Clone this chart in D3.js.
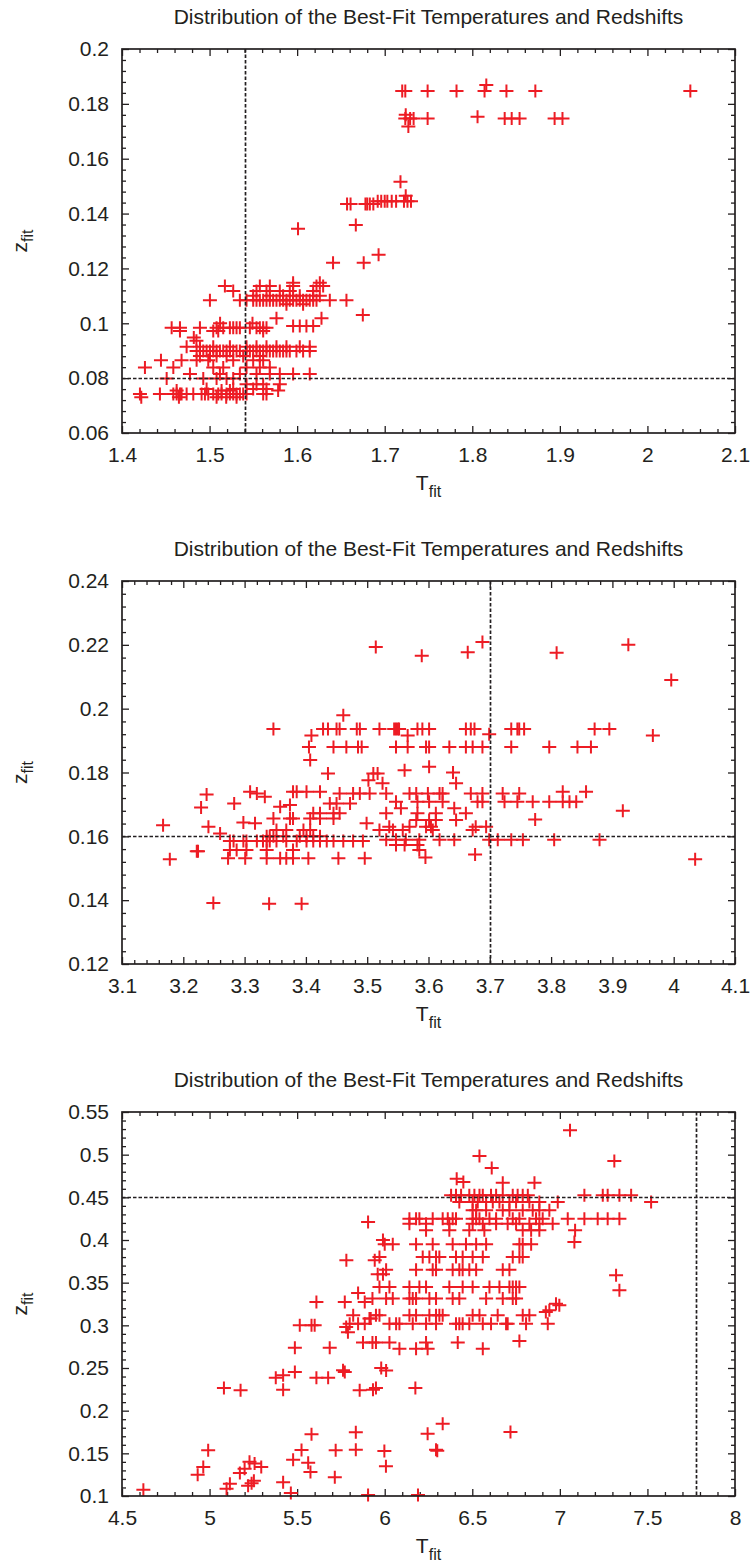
<!DOCTYPE html>
<html>
<head>
<meta charset="utf-8">
<script src="https://cdn.jsdelivr.net/npm/d3@7"></script>
<style>
  html, body { margin: 0; padding: 0; background: #fff; }
  svg { display: block; }
</style>
</head>
<body>
<svg id="chart" width="752" height="1562"></svg>
<script>
// Best-fit temperature / redshift pairs, grouped by redshift row: { z, t: [T_fit ...] }
const lowTRows = [
  { z: 0.1869, t: [1.816] },
  { z: 0.1847, t: [1.720, 1.7235, 1.749, 1.782, 1.814, 1.839, 1.872, 2.049] },
  { z: 0.1760, t: [1.724] },
  { z: 0.1753, t: [1.806] },
  { z: 0.1747, t: [1.7235, 1.729, 1.733, 1.749, 1.837, 1.845, 1.854, 1.894, 1.903] },
  { z: 0.1717, t: [1.727] },
  { z: 0.1516, t: [1.718] },
  { z: 0.1465, t: [1.724] },
  { z: 0.1445, t: [1.692, 1.696, 1.700, 1.703, 1.708, 1.713, 1.722, 1.726, 1.730] },
  { z: 0.1435, t: [1.657, 1.661, 1.678, 1.680, 1.683, 1.687] },
  { z: 0.1358, t: [1.667] },
  { z: 0.1345, t: [1.601] },
  { z: 0.1250, t: [1.693] },
  { z: 0.1221, t: [1.641, 1.676] },
  { z: 0.1148, t: [1.5954, 1.6259] },
  { z: 0.1136, t: [1.5175, 1.5574, 1.5688, 1.5954, 1.6221, 1.6297] },
  { z: 0.1118, t: [1.527, 1.5536, 1.565, 1.5802, 1.5916, 1.6183] },
  { z: 0.1100, t: [1.5498, 1.5688, 1.584, 1.5954, 1.603, 1.6183, 1.6259] },
  { z: 0.1084, t: [1.5004, 1.5346, 1.5422, 1.5498, 1.5536, 1.5574, 1.5612, 1.565, 1.5688, 1.5726, 1.5764, 1.5802, 1.584, 1.5878, 1.5916, 1.5954, 1.5992, 1.603, 1.6068, 1.6106, 1.6144, 1.6183, 1.6221, 1.6373, 1.6563] },
  { z: 0.1069, t: [1.5878, 1.6068] },
  { z: 0.1030, t: [1.675] },
  { z: 0.1018, t: [1.5764, 1.6278] },
  { z: 0.1000, t: [1.512, 1.549] },
  { z: 0.0990, t: [1.5954, 1.603, 1.6106, 1.6183] },
  { z: 0.0984, t: [1.4567, 1.4662, 1.489, 1.508, 1.5156, 1.5232, 1.527, 1.5308, 1.5346, 1.546, 1.5536, 1.5574, 1.5612, 1.565] },
  { z: 0.0972, t: [1.4662, 1.5042, 1.5099, 1.5612] },
  { z: 0.0948, t: [1.482] },
  { z: 0.0936, t: [1.485] },
  { z: 0.0914, t: [1.4738, 1.489, 1.5042, 1.5232, 1.5422, 1.5536, 1.565, 1.5764, 1.5878, 1.603, 1.6144] },
  { z: 0.0899, t: [1.4852, 1.489, 1.4928, 1.4966, 1.5004, 1.5042, 1.508, 1.5118, 1.5156, 1.5194, 1.5232, 1.527, 1.5308, 1.5346, 1.5422, 1.546, 1.5498, 1.5536, 1.5574, 1.5612, 1.565, 1.5688, 1.5726, 1.5764, 1.5802, 1.584, 1.5878, 1.5916, 1.5992, 1.6068, 1.6144] },
  { z: 0.0881, t: [1.489, 1.5004, 1.508, 1.5194, 1.5384, 1.5574] },
  { z: 0.0865, t: [1.4445, 1.468, 1.4852, 1.4985, 1.527, 1.5498, 1.5612] },
  { z: 0.0839, t: [1.4262, 1.4586, 1.5042, 1.5156, 1.5422, 1.5574, 1.5688] },
  { z: 0.0815, t: [1.4776, 1.5118, 1.5346, 1.5536, 1.5688, 1.5802, 1.5954, 1.6144] },
  { z: 0.0799, t: [1.451, 1.4928, 1.508, 1.5194, 1.527] },
  { z: 0.0778, t: [1.5422, 1.5536, 1.5612, 1.5802] },
  { z: 0.0760, t: [1.4966, 1.527, 1.5498, 1.565] },
  { z: 0.0755, t: [1.4624, 1.5137, 1.5232, 1.5783] },
  { z: 0.0742, t: [1.4205, 1.4433, 1.4586, 1.4624, 1.4662, 1.468, 1.4738, 1.4814, 1.4909, 1.4947, 1.4985, 1.5042, 1.5099, 1.5137, 1.5194, 1.5232, 1.527, 1.5308, 1.5346, 1.5384, 1.5422, 1.5612, 1.565] },
  { z: 0.0730, t: [1.422, 1.465, 1.508, 1.519, 1.5308] }
];

const midTRows = [
  { z: 0.2209, t: [3.688] },
  { z: 0.2200, t: [3.926] },
  { z: 0.2193, t: [3.514] },
  { z: 0.2177, t: [3.664] },
  { z: 0.2175, t: [3.809] },
  { z: 0.2166, t: [3.589] },
  { z: 0.2090, t: [3.996] },
  { z: 0.1979, t: [3.461] },
  { z: 0.1936, t: [3.347, 3.428, 3.436, 3.450, 3.455, 3.483, 3.488, 3.520, 3.544, 3.547, 3.550, 3.552, 3.582, 3.590, 3.601, 3.661, 3.669, 3.675, 3.735, 3.745, 3.748, 3.756, 3.871, 3.895] },
  { z: 0.1920, t: [3.699] },
  { z: 0.1916, t: [3.409, 3.566, 3.966] },
  { z: 0.1880, t: [3.405, 3.445, 3.466, 3.485, 3.491, 3.547, 3.566, 3.596, 3.601, 3.634, 3.661, 3.672, 3.688, 3.735, 3.797, 3.843, 3.865] },
  { z: 0.1839, t: [3.407] },
  { z: 0.1818, t: [3.601] },
  { z: 0.1807, t: [3.561] },
  { z: 0.1800, t: [3.640] },
  { z: 0.1797, t: [3.436, 3.510, 3.517] },
  { z: 0.1776, t: [3.502] },
  { z: 0.1766, t: [3.525, 3.645] },
  { z: 0.1740, t: [3.309, 3.379, 3.385, 3.401, 3.423, 3.819, 3.857] },
  { z: 0.1734, t: [3.320, 3.455, 3.477, 3.488, 3.504, 3.531, 3.569, 3.580, 3.599, 3.618, 3.623, 3.669, 3.688, 3.721, 3.748] },
  { z: 0.1731, t: [3.238] },
  { z: 0.1724, t: [3.333] },
  { z: 0.1708, t: [3.547, 3.582, 3.601, 3.623, 3.680, 3.688, 3.724, 3.745, 3.770, 3.797, 3.819, 3.830, 3.841] },
  { z: 0.1703, t: [3.283, 3.439, 3.450, 3.472] },
  { z: 0.1698, t: [3.374] },
  { z: 0.1693, t: [3.358] },
  { z: 0.1690, t: [3.229] },
  { z: 0.1688, t: [3.555, 3.642] },
  { z: 0.1680, t: [3.917] },
  { z: 0.1672, t: [3.412, 3.423, 3.445, 3.455, 3.531, 3.582, 3.612, 3.661] },
  { z: 0.1656, t: [3.347, 3.374, 3.379, 3.407, 3.423, 3.445] },
  { z: 0.1653, t: [3.774] },
  { z: 0.1651, t: [3.580, 3.601, 3.612, 3.645] },
  { z: 0.1643, t: [3.298] },
  { z: 0.1641, t: [3.317, 3.499] },
  { z: 0.1635, t: [3.167] },
  { z: 0.1630, t: [3.241, 3.536, 3.569, 3.596, 3.604, 3.677, 3.694] },
  { z: 0.1620, t: [3.352, 3.368, 3.396, 3.407, 3.520, 3.542, 3.558, 3.607, 3.672] },
  { z: 0.1609, t: [3.260] },
  { z: 0.1600, t: [3.336, 3.341, 3.347, 3.363, 3.390, 3.401, 3.412, 3.423] },
  { z: 0.1589, t: [3.531, 3.547, 3.563, 3.585, 3.618, 3.642, 3.699, 3.713, 3.735, 3.754, 3.805, 3.879] },
  { z: 0.1585, t: [3.276, 3.282, 3.298, 3.303, 3.320, 3.330, 3.336, 3.341, 3.352, 3.368, 3.385, 3.401, 3.412, 3.423, 3.434, 3.445, 3.461, 3.477, 3.493] },
  { z: 0.1573, t: [3.547, 3.561, 3.582] },
  { z: 0.1557, t: [3.276, 3.287, 3.303, 3.336, 3.379, 3.585] },
  { z: 0.1553, t: [3.222, 3.224] },
  { z: 0.1543, t: [3.676] },
  { z: 0.1534, t: [3.595] },
  { z: 0.1531, t: [3.273, 3.301, 3.336, 3.358, 3.368, 3.379, 3.404, 3.453, 3.496] },
  { z: 0.1528, t: [3.178, 4.035] },
  { z: 0.1391, t: [3.249] },
  { z: 0.1389, t: [3.340, 3.393] }
];

const highTRows = [
  { z: 0.5285, t: [7.058] },
  { z: 0.4984, t: [6.541] },
  { z: 0.4926, t: [7.311] },
  { z: 0.4844, t: [6.611] },
  { z: 0.4719, t: [6.411] },
  { z: 0.4680, t: [6.449] },
  { z: 0.4670, t: [6.674, 6.855] },
  { z: 0.4523, t: [6.379, 6.407, 6.436, 6.483, 6.512, 6.541, 6.560, 6.607, 6.636, 6.674, 6.731, 6.759, 6.788, 6.817, 7.140, 7.245, 7.273, 7.340, 7.407] },
  { z: 0.4445, t: [6.426, 6.502, 6.531, 6.579, 6.617, 6.655, 6.712, 6.750, 6.826, 6.883, 6.988, 7.521] },
  { z: 0.4348, t: [6.502, 6.522, 6.579, 6.674, 6.712, 6.788, 6.845, 6.883, 6.940] },
  { z: 0.4250, t: [6.141, 6.179, 6.198, 6.274, 6.331, 6.360, 6.388, 6.407, 6.502, 6.522, 6.541, 6.598, 6.636, 6.731, 6.769, 6.864, 6.902, 7.045, 7.140, 7.216, 7.273, 7.340] },
  { z: 0.4211, t: [5.905] },
  { z: 0.4191, t: [6.141, 6.236, 6.369, 6.502, 6.560, 6.636, 6.702, 6.750, 6.826, 6.883, 6.959] },
  { z: 0.4113, t: [6.236, 6.369, 6.483, 6.569, 6.788, 6.836, 6.883, 7.087] },
  { z: 0.4000, t: [5.990] },
  { z: 0.3977, t: [7.083] },
  { z: 0.3950, t: [6.000, 6.046, 6.179, 6.274, 6.388, 6.464, 6.522, 6.579, 6.769, 6.788, 6.836] },
  { z: 0.3800, t: [5.970, 6.217, 6.255, 6.293, 6.312, 6.407, 6.445, 6.502, 6.560, 6.731, 6.769, 6.788] },
  { z: 0.3762, t: [5.781, 5.943] },
  { z: 0.3650, t: [6.008, 6.179, 6.274, 6.293, 6.388, 6.426, 6.445, 6.483, 6.522, 6.674, 6.712] },
  { z: 0.3600, t: [5.960, 5.990] },
  { z: 0.3586, t: [7.321] },
  { z: 0.3450, t: [5.970, 6.027, 6.141, 6.198, 6.236, 6.369, 6.445, 6.502, 6.598, 6.655, 6.712, 6.731, 6.750, 6.769] },
  { z: 0.3410, t: [7.340] },
  { z: 0.3379, t: [5.848] },
  { z: 0.3313, t: [5.930, 6.008, 6.046, 6.141, 6.160, 6.179, 6.255, 6.293, 6.388, 6.426, 6.579, 6.674, 6.731, 6.750] },
  { z: 0.3273, t: [5.610, 5.772, 5.886] },
  { z: 0.3254, t: [6.978] },
  { z: 0.3234, t: [6.997] },
  { z: 0.3176, t: [6.940] },
  { z: 0.3156, t: [6.920] },
  { z: 0.3117, t: [5.820, 5.950, 5.970, 6.141, 6.179, 6.255, 6.293, 6.312, 6.331, 6.502, 6.541, 6.645, 6.788, 6.826] },
  { z: 0.3080, t: [5.913, 5.920] },
  { z: 0.3020, t: [5.800, 5.848, 5.886, 6.027, 6.065, 6.084, 6.160, 6.236, 6.293, 6.407, 6.426, 6.445, 6.483, 6.560, 6.607, 6.693, 6.702, 6.807, 6.931] },
  { z: 0.3000, t: [5.515, 5.582, 5.600] },
  { z: 0.2980, t: [5.780] },
  { z: 0.2920, t: [5.790] },
  { z: 0.2816, t: [6.769] },
  { z: 0.2800, t: [5.876, 5.930, 5.950, 6.027, 6.236, 6.417] },
  { z: 0.2738, t: [5.487, 5.686] },
  { z: 0.2727, t: [6.084, 6.179, 6.245, 6.560] },
  { z: 0.2500, t: [5.980] },
  { z: 0.2473, t: [5.762] },
  { z: 0.2470, t: [6.008] },
  { z: 0.2453, t: [5.487, 5.772] },
  { z: 0.2414, t: [5.420] },
  { z: 0.2387, t: [5.378, 5.610, 5.677] },
  { z: 0.2266, t: [5.082, 5.950, 6.175] },
  { z: 0.2246, t: [5.420, 5.933] },
  { z: 0.2240, t: [5.857] },
  { z: 0.2238, t: [5.177] },
  { z: 0.1848, t: [6.331] },
  { z: 0.1750, t: [6.718] },
  { z: 0.1746, t: [5.835] },
  { z: 0.1730, t: [6.245] },
  { z: 0.1723, t: [5.582] },
  { z: 0.1543, t: [5.835, 6.293] },
  { z: 0.1540, t: [5.525] },
  { z: 0.1535, t: [4.992, 5.720] },
  { z: 0.1530, t: [6.300] },
  { z: 0.1527, t: [5.998] },
  { z: 0.1426, t: [5.477] },
  { z: 0.1400, t: [5.228] },
  { z: 0.1390, t: [5.563] },
  { z: 0.1380, t: [5.257] },
  { z: 0.1348, t: [6.007] },
  { z: 0.1340, t: [4.964, 5.295] },
  { z: 0.1320, t: [5.200] },
  { z: 0.1280, t: [5.576] },
  { z: 0.1270, t: [5.173] },
  { z: 0.1250, t: [4.932] },
  { z: 0.1220, t: [5.715] },
  { z: 0.1180, t: [5.253] },
  { z: 0.1160, t: [5.420] },
  { z: 0.1150, t: [5.240] },
  { z: 0.1145, t: [5.116] },
  { z: 0.1120, t: [5.220] },
  { z: 0.1086, t: [5.097] },
  { z: 0.1074, t: [4.622] },
  { z: 0.1035, t: [5.464] },
  { z: 0.1012, t: [5.905, 6.190] }
];

// Axis ticks for each panel
const xTicksLow = [1.4, 1.5, 1.6, 1.7, 1.8, 1.9, 2.0, 2.1];
const yTicksLow = [0.06, 0.08, 0.10, 0.12, 0.14, 0.16, 0.18, 0.20];
const xTicksMid = [3.1, 3.2, 3.3, 3.4, 3.5, 3.6, 3.7, 3.8, 3.9, 4.0, 4.1];
const yTicksMid = [0.12, 0.14, 0.16, 0.18, 0.20, 0.22, 0.24];
const xTicksHigh = [4.5, 5.0, 5.5, 6.0, 6.5, 7.0, 7.5, 8.0];
const yTicksHigh = [0.10, 0.15, 0.20, 0.25, 0.30, 0.35, 0.40, 0.45, 0.50, 0.55];

// Dashed reference values [T_fit, z_fit]
const refLow = [1.54, 0.08];
const refMid = [3.70, 0.16];
const refHigh = [7.78, 0.45];

const titleText = "Distribution of the Best-Fit Temperatures and Redshifts";

const INK = "#231f20";
const RED = "#ed1c24";
const FONT = "'Liberation Sans', Arial, Helvetica, sans-serif";
const plotLeft = 122, plotRight = 735;

const svg = d3.select("#chart");
const fmt = d3.format("~g");

function minorTicks(major, parts) {
  const out = [];
  for (let i = 0; i < major.length - 1; i++) {
    const a = major[i], b = major[i + 1];
    for (let k = 1; k < parts; k++) out.push(a + (b - a) * k / parts);
  }
  return out;
}

function drawPanel(cfg) {
  const x = d3.scaleLinear().domain(d3.extent(cfg.xTicks)).range([plotLeft, plotRight]);
  const y = d3.scaleLinear().domain(d3.extent(cfg.yTicks)).range([cfg.bottom, cfg.top]);
  const g = svg.append("g");

  g.append("text")
    .attr("x", (plotLeft + plotRight) / 2)
    .attr("y", cfg.top - 25)
    .attr("text-anchor", "middle")
    .style("font-family", FONT)
    .style("font-size", "21px")
    .style("fill", INK)
    .text(titleText);

  const xMinor = minorTicks(cfg.xTicks, 5);
  const yMinor = minorTicks(cfg.yTicks, 5);

  const addAxis = (axis, transform) => {
    const a = g.append("g")
      .attr("transform", transform)
      .style("color", INK)
      .call(axis);
    a.select(".domain").remove();
    a.selectAll(".tick line").attr("stroke-width", 1.3);
    a.selectAll("text")
      .style("font-family", FONT)
      .style("font-size", "21px")
      .style("fill", INK);
    return a;
  };

  // bottom (labelled) and top (mirror) x ticks
  addAxis(d3.axisBottom(x).tickValues(cfg.xTicks).tickSizeInner(-7).tickSizeOuter(0).tickPadding(14).tickFormat(fmt),
    `translate(0,${cfg.bottom})`);
  addAxis(d3.axisBottom(x).tickValues(xMinor).tickSizeInner(-4).tickSizeOuter(0).tickFormat(""),
    `translate(0,${cfg.bottom})`);
  addAxis(d3.axisTop(x).tickValues(cfg.xTicks).tickSizeInner(-7).tickSizeOuter(0).tickFormat(""),
    `translate(0,${cfg.top})`);
  addAxis(d3.axisTop(x).tickValues(xMinor).tickSizeInner(-4).tickSizeOuter(0).tickFormat(""),
    `translate(0,${cfg.top})`);
  // left (labelled) and right (mirror) y ticks
  addAxis(d3.axisLeft(y).tickValues(cfg.yTicks).tickSizeInner(-7).tickSizeOuter(0).tickPadding(13).tickFormat(fmt),
    `translate(${plotLeft},0)`);
  addAxis(d3.axisLeft(y).tickValues(yMinor).tickSizeInner(-4).tickSizeOuter(0).tickFormat(""),
    `translate(${plotLeft},0)`);
  addAxis(d3.axisRight(y).tickValues(cfg.yTicks).tickSizeInner(-7).tickSizeOuter(0).tickFormat(""),
    `translate(${plotRight},0)`);
  addAxis(d3.axisRight(y).tickValues(yMinor).tickSizeInner(-4).tickSizeOuter(0).tickFormat(""),
    `translate(${plotRight},0)`);

  // data points as red crosses
  const pts = cfg.rows.flatMap(r => r.t.map(t => ({ t, z: r.z })));
  g.append("g")
    .selectAll("path")
    .data(pts)
    .join("path")
    .attr("transform", d => `translate(${x(d.t)},${y(d.z)})`)
    .attr("d", "M-7,0H7M0,-6.5V6.5")
    .attr("fill", "none")
    .attr("stroke", RED)
    .attr("stroke-width", 2);

  // dashed reference lines, snapped to the pixel grid
  const [rt, rz] = cfg.ref;
  const vx = Math.round(x(rt)) + 0.5;
  const hy = Math.round(y(rz)) + 0.5;
  g.append("line")
    .attr("x1", vx).attr("x2", vx)
    .attr("y1", cfg.top).attr("y2", cfg.bottom)
    .attr("stroke", INK).attr("stroke-width", 1.7).attr("stroke-dasharray", "3.5,2");
  g.append("line")
    .attr("x1", plotLeft).attr("x2", plotRight)
    .attr("y1", hy).attr("y2", hy)
    .attr("stroke", INK).attr("stroke-width", 1.7).attr("stroke-dasharray", "3.5,2");

  // frame
  g.append("rect")
    .attr("x", plotLeft).attr("y", cfg.top)
    .attr("width", plotRight - plotLeft).attr("height", cfg.bottom - cfg.top)
    .attr("fill", "none").attr("stroke", INK).attr("stroke-width", 1.7);

  // axis titles
  const xt = g.append("text")
    .attr("x", (plotLeft + plotRight) / 2)
    .attr("y", cfg.bottom + 57)
    .attr("text-anchor", "middle")
    .style("font-family", FONT)
    .style("font-size", "21px")
    .style("fill", INK);
  xt.append("tspan").text("T");
  xt.append("tspan").attr("dy", 7).style("font-size", "16px").text("fit");

  const yt = g.append("text")
    .attr("transform", `translate(27,${(cfg.top + cfg.bottom) / 2}) rotate(-90)`)
    .attr("text-anchor", "middle")
    .style("font-family", FONT)
    .style("font-size", "21px")
    .style("fill", INK);
  yt.append("tspan").text("z");
  yt.append("tspan").attr("dy", 6).style("font-size", "16px").text("fit");
}

drawPanel({ top: 49, bottom: 433, xTicks: xTicksLow, yTicks: yTicksLow, rows: lowTRows, ref: refLow });
drawPanel({ top: 581, bottom: 964, xTicks: xTicksMid, yTicks: yTicksMid, rows: midTRows, ref: refMid });
drawPanel({ top: 1112, bottom: 1496, xTicks: xTicksHigh, yTicks: yTicksHigh, rows: highTRows, ref: refHigh });
</script>
</body>
</html>
